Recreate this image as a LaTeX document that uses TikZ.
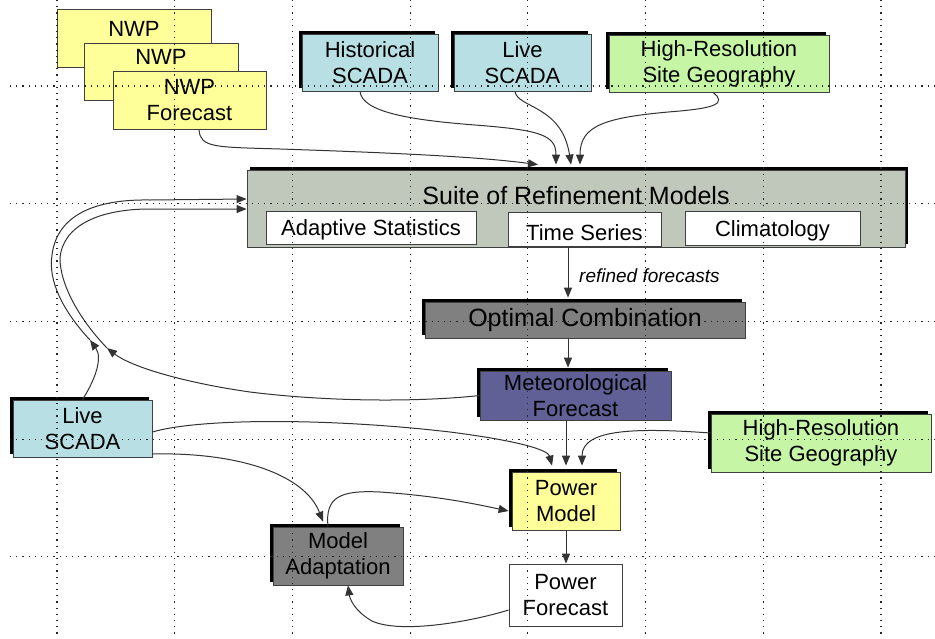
\documentclass[tikz,border=0pt]{standalone}
\usepackage{fontspec}
\setmainfont{Liberation Sans}
\usetikzlibrary{arrows.meta,shadows,calc}
\definecolor{cyell}{RGB}{255,255,153}
\definecolor{cblue}{RGB}{184,223,227}
\definecolor{cgreen}{RGB}{198,245,166}
\definecolor{csuite}{RGB}{192,200,188}
\definecolor{cgray}{RGB}{128,128,128}
\definecolor{cmet}{RGB}{96,96,150}
\begin{document}
\begin{tikzpicture}[x=1pt,y=-1pt,
  box/.style={draw=black!75, line width=0.8pt, inner sep=0pt, align=center, font=\fontsize{22}{26}\selectfont},
  bigtext/.style={font=\fontsize{25}{29}\selectfont},
  shadl/.style={general shadow={fill=black, shadow xshift=-3pt, shadow yshift=3pt}},
  shadr/.style={general shadow={fill=black, shadow xshift=3pt, shadow yshift=3pt}},
  conn/.style={draw=black!80, line width=1pt, -{Triangle[length=10pt,width=8pt]}},
  gridline/.style={black!85, line width=1.2pt, dash pattern=on 1.2pt off 5pt},
]
\useasboundingbox[fill=white] (0,0) rectangle (935,638);

% NWP stack
\node[box, fill=cyell, minimum width=154pt, minimum height=58pt, text depth=17.75pt] (nwp1) at (134,38) {NWP};
\node[box, fill=cyell, minimum width=154pt, minimum height=57pt, text depth=28.75pt] (nwp2) at (161,71.5) {NWP};
\node[box, fill=cyell, minimum width=153pt, minimum height=58pt] (nwp3) at (189.5,100) {NWP\\Forecast};

% top inputs
\node[box, shadl, fill=cblue, minimum width=136pt, minimum height=57pt] (hist) at (370,62.5) {Historical\\SCADA};
\node[box, shadl, fill=cblue, minimum width=137pt, minimum height=57pt] (live1) at (522.5,62.5) {Live\\SCADA};
\node[box, shadl, fill=cgreen, minimum width=220pt, minimum height=57pt] (hires1) at (719,63.5) {High-Resolution\\Site Geography};

% suite
\node[box, shadr, fill=csuite, bigtext, minimum width=658pt, minimum height=77pt, text height=18pt, text depth=27pt] (suite) at (576,208.5) {Suite of Refinement Models};
\node[box, fill=white, minimum width=210pt, minimum height=33pt, text height=21pt, text depth=4.6pt] (adap) at (371,227.5) {Adaptive Statistics};
\node[box, fill=white, minimum width=153pt, minimum height=34pt, text height=22pt, text depth=0pt] (tser) at (584.5,229) {Time Series};
\node[box, fill=white, minimum width=175pt, minimum height=34pt, text height=20.6pt, text depth=4.6pt] (clim) at (772.5,228) {Climatology};

% middle
\node[box, shadl, fill=cgray, bigtext, minimum width=320pt, minimum height=36pt] (opt) at (585,320) {Optimal Combination};
\node[box, shadl, fill=cmet, minimum width=191pt, minimum height=49pt] (met) at (575.5,395.5) {Meteorological\\Forecast};
\node[box, shadl, fill=cblue, minimum width=139pt, minimum height=57pt] (live2) at (82.5,428.5) {Live\\SCADA};
\node[box, shadl, fill=cgreen, minimum width=220pt, minimum height=58pt] (hires2) at (821,443) {High-Resolution\\Site Geography};
\node[box, shadl, fill=cyell, minimum width=108pt, minimum height=58pt] (pm) at (566,501) {Power\\Model};
\node[box, shadl, fill=cgray, minimum width=130pt, minimum height=58pt] (ma) at (338,556) {Model\\Adaptation};
\node[box, fill=white, minimum width=113pt, minimum height=62pt] (pf) at (565.5,595) {Power\\Forecast};

% connectors into suite
\draw[conn] ([xshift=9.5pt]nwp3.south) .. controls (200,148) and (215,147) .. (280,149) .. controls (400,153) and (480,157) .. ([xshift=-38pt,yshift=5pt]suite.north);
\draw[conn] ([xshift=-10pt]hist.south) .. controls (362,112) and (410,120) .. (475,125) .. controls (540,130) and (556,135) .. ([xshift=-20pt,yshift=5pt]suite.north);
\draw[conn] ([xshift=-7.5pt]live1.south) .. controls (517,108) and (562,105) .. ([xshift=-5pt,yshift=5pt]suite.north);
\draw[conn] ([xshift=-6pt]hires1.south) .. controls (728,104) and (712,108) .. (680,111) .. controls (605,117) and (580,125) .. ([xshift=4pt,yshift=5pt]suite.north);

% suite -> optimal -> met
\coordinate (rf) at ([xshift=-8pt]suite.south);
\draw[conn] (rf) -- ($(rf |- opt.north)+(0,-4)$);
\node[anchor=west, inner sep=0pt, font=\itshape\fontsize{19}{22}\selectfont] (rflab) at (579,276) {refined forecasts};
\draw[conn] (rf |- opt.south) -- ($(rf |- met.north)+(0,-3)$);

% feedback loops
\coordinate (jl) at (90,340);
\coordinate (jm) at (107,348);
\draw[conn] (met.west) .. controls (420,402) and (330,402) .. (250,392) .. controls (180,382) and (130,366) .. (jm);
\draw[conn] (live2.north) .. controls (95,380) and (103,358) .. (jl);
\draw[conn] (jl) .. controls (62,310) and (48,280) .. (52,255) .. controls (57,215) and (95,199) .. (150,200) -- ([yshift=9.5pt]suite.west);
\draw[conn] (jm) .. controls (80,320) and (60,285) .. (60,258) .. controls (63,225) and (100,209) .. (150,209) -- ([yshift=-0.5pt]suite.west);

% into power model
\coordinate (mp) at ([xshift=-9.5pt]met.south);
\draw[conn] ([yshift=-3.5pt]live2.east) .. controls (200,418) and (330,418) .. (450,432) .. controls (520,441) and (548,450) .. ([xshift=-14pt,yshift=6pt]pm.north);
\draw[conn] (mp) -- ($(mp |- pm.north)+(0,-6)$);
\draw[conn] ([yshift=10pt]hires2.west) .. controls (640,428) and (582,428) .. ([xshift=16pt,yshift=6pt]pm.north);

% adaptation loop
\draw[conn] ([yshift=-25.5pt]live2.east) .. controls (240,452) and (305,475) .. ([xshift=-15pt,yshift=5pt]ma.north);
\draw[conn] ([xshift=-10pt]ma.north) .. controls (325,497) and (340,490) .. (380,492) .. controls (440,496) and (480,505) .. ([xshift=-3pt,yshift=-10pt]pm.west);
\draw[conn] (pm.south) -- (pm.south |- pf.north);
\draw[conn] ([yshift=-15pt]pf.west) .. controls (470,622) and (400,634) .. (372,621) .. controls (356,612) and (350,600) .. ([xshift=10pt]ma.south);

% dotted grid
\foreach \gx in {0,...,7} \draw[gridline] ({57+117.7*\gx},0) -- ({57+117.7*\gx},638);
\foreach \gy in {0,...,4} \draw[gridline] (10,{86+117.7*\gy}) -- (935,{86+117.7*\gy});
\end{tikzpicture}
\end{document}
